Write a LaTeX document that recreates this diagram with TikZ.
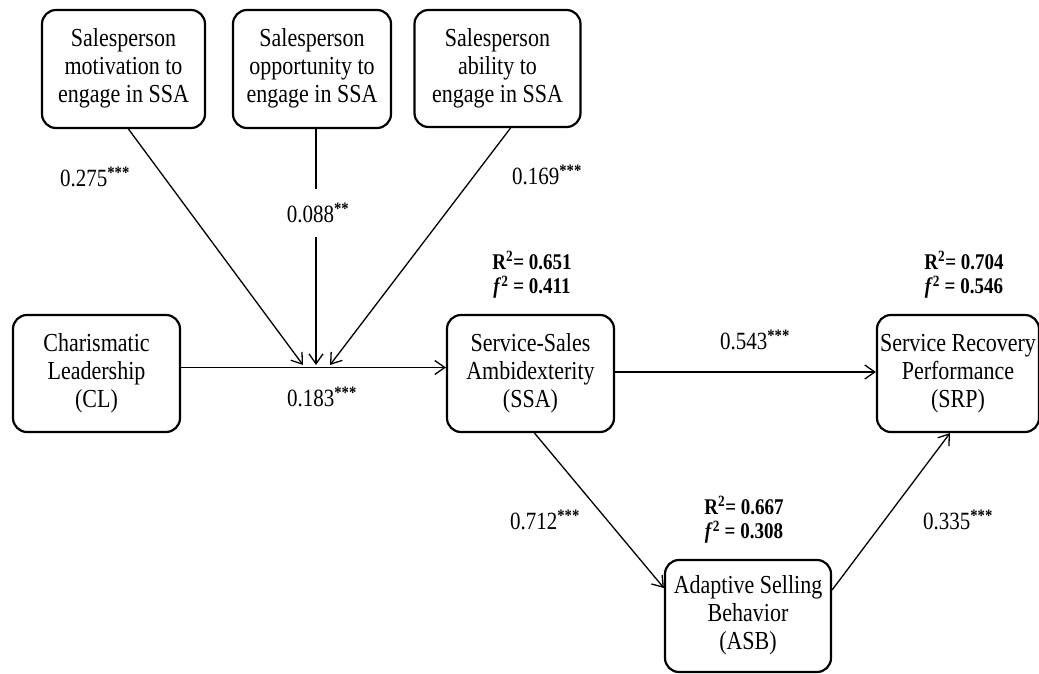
\documentclass[tikz,border=0pt]{standalone}
\usepackage{fontspec}
\usepackage{graphicx}
\setmainfont{Liberation Serif}
\usetikzlibrary{arrows.meta,calc}
\newcommand{\tallbox}[1]{\scalebox{1}[1.18]{\begin{tabular}{@{}c@{}}#1\end{tabular}}}
\newcommand{\tallnum}[1]{\scalebox{1}[1.18]{#1}}
\tikzset{
  box/.style={draw, line width=2.2pt, rounded corners=14pt, align=center, inner sep=1pt,
    font=\fontsize{22}{23.7}\selectfont},
  conn/.style={line width=1.3pt, -{Straight Barb[length=10pt,width=14pt,line width=1.3pt]}},
  coef/.style={font=\fontsize{21}{25}\selectfont, inner sep=1pt},
  rsq/.style={font=\bfseries\fontsize{19}{19.5}\selectfont, inner sep=1pt},
}
\newcommand{\sig}[1]{\textsuperscript{\bfseries #1}}
\begin{document}
\begin{tikzpicture}[x=1pt,y=-1pt]
\useasboundingbox (0,0) rectangle (1039,674);
% boxes
\node[box, minimum width=163pt, minimum height=118pt] (mot) at (123.5,69) {\tallbox{Salesperson\\motivation to\\engage in SSA}};
\node[box, minimum width=158pt, minimum height=118pt] (opp) at (312,69) {\tallbox{Salesperson\\opportunity to\\engage in SSA}};
\node[box, minimum width=166pt, minimum height=117pt] (abl) at (497.5,68.5) {\tallbox{Salesperson\\ability to\\engage in SSA}};
\node[box, minimum width=167pt, minimum height=117pt] (cl) at (96.5,373.5) {\tallbox{Charismatic\\Leadership\\(CL)}};
\node[box, minimum width=167pt, minimum height=117pt] (ssa) at (530.5,373.5) {\tallbox{Service-Sales\\Ambidexterity\\(SSA)}};
\node[box, minimum width=162pt, minimum height=117pt] (srp) at (958,373.5) {\tallbox{Service Recovery\\Performance\\(SRP)}};
\node[box, minimum width=166pt, minimum height=112pt] (asb) at (748,616) {\tallbox{Adaptive Selling\\Behavior\\(ASB)}};
% convergence points
\coordinate (t1) at (303,365);
\coordinate (t2) at (316,365);
\coordinate (t3) at (330,365);
% connectors
\draw[conn] ($(mot.south)+(5,0)$) -- (t1);
\draw[conn] ($(opp.south)+(4,0)$) -- (t2);
\draw[conn] ($(abl.south)+(13,0)$) -- (t3);
\draw[conn] ($(cl.east)+(0,-6)$) -- ($(ssa.west)+(0,-6)$);
\draw[conn] ($(ssa.east)+(0,-1.5)$) -- ($(srp.west)+(0,-1.5)$);
\draw[conn] ($(ssa.south)+(4,0)$) -- ($(asb.west)+(0,-28)$);
\draw[conn] ($(asb.east)+(0,-26)$) -- ($(srp.south)+(-8,0)$);
% coefficient labels
\node[coef] (c1) at (95,177) {\tallnum{0.275\sig{***}}};
\node[coef, fill=white, inner ysep=14pt] (c2) at (318,213) {\tallnum{0.088\sig{**}}};
\node[coef] (c3) at (547,175) {\tallnum{0.169\sig{***}}};
\node[coef] (c4) at (322,397) {\tallnum{0.183\sig{***}}};
\node[coef] (c5) at (755,340) {\tallnum{0.543\sig{***}}};
\node[coef] (c6) at (545,520) {\tallnum{0.712\sig{***}}};
\node[coef] (c7) at (958,520) {\tallnum{0.335\sig{***}}};
% R2 / f2
\node[rsq] (r1) at (532,276) {\tallbox{R\textsuperscript{2}= 0.651\\\textit{f}\textsuperscript{2} = 0.411}};
\node[rsq] (r2) at (964,276) {\tallbox{R\textsuperscript{2}= 0.704\\\textit{f}\textsuperscript{2} = 0.546}};
\node[rsq] (r3) at (744,521) {\tallbox{R\textsuperscript{2}= 0.667\\\textit{f}\textsuperscript{2} = 0.308}};
\end{tikzpicture}
\end{document}
